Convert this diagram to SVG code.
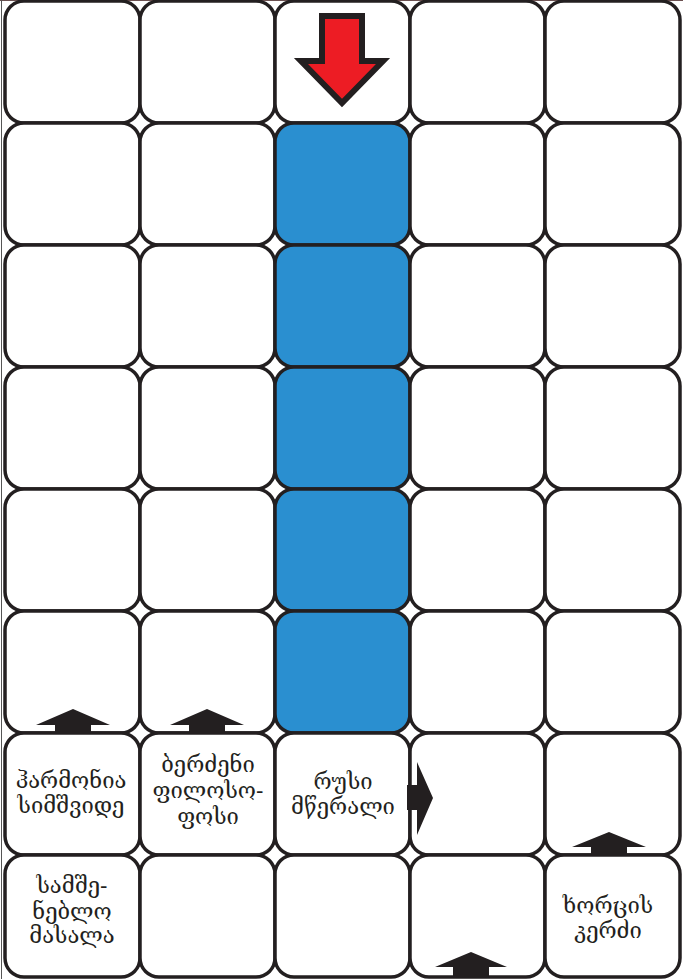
<svg xmlns="http://www.w3.org/2000/svg" width="683" height="979" viewBox="0 0 683 979">
<style>
.c{fill:#ffffff;stroke:#231f20;stroke-width:3.5}
.b{fill:#2a8fd0;stroke:#231f20;stroke-width:3.5}
.t{font-family:"DejaVu Serif","DejaVu Sans",serif;font-size:22px;fill:#231f20;text-anchor:middle}
.ar{fill:#231f20}
</style>
<rect x="0" y="0" width="683" height="979" fill="#ffffff"/>
<line x1="0" y1="0.5" x2="683" y2="0.5" stroke="#6b5050" stroke-width="1"/>
<line x1="1.5" y1="0" x2="1.5" y2="979" stroke="#555" stroke-width="1"/>
<g id="grid">
<g id="r0"><rect class="c" x="5" y="1" width="135" height="122" rx="19"/><rect class="c" x="140" y="1" width="135" height="122" rx="19"/><rect class="c" x="275" y="1" width="135" height="122" rx="19"/><rect class="c" x="410" y="1" width="135" height="122" rx="19"/><rect class="c" x="545" y="1" width="135" height="122" rx="19"/></g>
<g id="r1"><rect class="c" x="5" y="123" width="135" height="122" rx="19"/><rect class="c" x="140" y="123" width="135" height="122" rx="19"/><rect class="b" x="275" y="123" width="135" height="122" rx="19"/><rect class="c" x="410" y="123" width="135" height="122" rx="19"/><rect class="c" x="545" y="123" width="135" height="122" rx="19"/></g>
<g id="r2"><rect class="c" x="5" y="245" width="135" height="122" rx="19"/><rect class="c" x="140" y="245" width="135" height="122" rx="19"/><rect class="b" x="275" y="245" width="135" height="122" rx="19"/><rect class="c" x="410" y="245" width="135" height="122" rx="19"/><rect class="c" x="545" y="245" width="135" height="122" rx="19"/></g>
<g id="r3"><rect class="c" x="5" y="367" width="135" height="122" rx="19"/><rect class="c" x="140" y="367" width="135" height="122" rx="19"/><rect class="b" x="275" y="367" width="135" height="122" rx="19"/><rect class="c" x="410" y="367" width="135" height="122" rx="19"/><rect class="c" x="545" y="367" width="135" height="122" rx="19"/></g>
<g id="r4"><rect class="c" x="5" y="489" width="135" height="122" rx="19"/><rect class="c" x="140" y="489" width="135" height="122" rx="19"/><rect class="b" x="275" y="489" width="135" height="122" rx="19"/><rect class="c" x="410" y="489" width="135" height="122" rx="19"/><rect class="c" x="545" y="489" width="135" height="122" rx="19"/></g>
<g id="r5"><rect class="c" x="5" y="611" width="135" height="122" rx="19"/><rect class="c" x="140" y="611" width="135" height="122" rx="19"/><rect class="b" x="275" y="611" width="135" height="122" rx="19"/><rect class="c" x="410" y="611" width="135" height="122" rx="19"/><rect class="c" x="545" y="611" width="135" height="122" rx="19"/></g>
<g id="r6"><rect class="c" x="5" y="733" width="135" height="122" rx="19"/><rect class="c" x="140" y="733" width="135" height="122" rx="19"/><rect class="c" x="275" y="733" width="135" height="122" rx="19"/><rect class="c" x="410" y="733" width="135" height="122" rx="19"/><rect class="c" x="545" y="733" width="135" height="122" rx="19"/></g>
<g id="r7"><rect class="c" x="5" y="855" width="135" height="122" rx="19"/><rect class="c" x="140" y="855" width="135" height="122" rx="19"/><rect class="c" x="275" y="855" width="135" height="122" rx="19"/><rect class="c" x="410" y="855" width="135" height="122" rx="19"/><rect class="c" x="545" y="855" width="135" height="122" rx="19"/></g>
</g>
<g id="labels">
<g id="clue-harmonia"><text class="t" x="71" y="788">ჰარმონია</text><text class="t" x="71" y="813">სიმშვიდე</text></g>
<g id="clue-berdzeni"><text class="t" x="208" y="772">ბერძენი</text><text class="t" x="208" y="798">ფილოსო-</text><text class="t" x="208" y="824">ფოსი</text></g>
<g id="clue-rusi"><text class="t" x="343" y="789">რუსი</text><text class="t" x="343" y="814">მწერალი</text></g>
<g id="clue-samsheneblo"><text class="t" x="72" y="893">სამშე-</text><text class="t" x="72" y="919">ნებლო</text><text class="t" x="72" y="943">მასალა</text></g>
<g id="clue-khortsis"><text class="t" x="608" y="913">ხორცის</text><text class="t" x="608" y="938">კერძი</text></g>
</g>
<g id="arrows">
<polygon id="start-arrow" points="322,16 362,16 362,61 383,61 342,103 301,61 322,61" fill="#ed1c24" stroke="#231f20" stroke-width="6"/>
<polygon class="ar" points="55,733 55,725 36,725 73,709 110,725 91,725 91,733"/>
<polygon class="ar" points="189,733 189,725 170,725 207,709 244,725 225,725 225,733"/>
<polygon class="ar" points="591,855 591,847 572,847 609,832 646,847 627,847 627,855"/>
<polygon class="ar" points="453,977 453,967 435,967 471,952 507,967 489,967 489,977"/>
<polygon class="ar" points="407,785 417,785 417,762 433,798 417,835 417,810 407,810"/>
</g>
</svg>
